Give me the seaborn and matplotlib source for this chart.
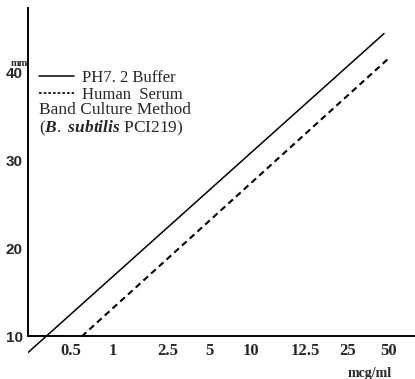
import numpy as np
import pandas as pd
import seaborn as sns
import matplotlib
matplotlib.use("Agg")
import matplotlib.pyplot as plt
from matplotlib.ticker import FixedLocator, NullLocator, FixedFormatter

# ---- data ----
buffer_conc = [0.245, 92.0]
buffer_zone = [8.16, 44.4]
serum_conc = [0.60, 98.0]
serum_zone = [10.0, 41.5]
series_names = ["PH7. 2 Buffer", "Human  Serum"]
x_tick_pos = [0.5, 1, 2.5, 5, 10, 25, 50, 100]
x_tick_labels = ["0.5", "1", "2.5", "5", "10", "12.5", "25", "50"]
y_ticks = [10, 20, 30, 40]
y_tick_labels = ["10", "20", "30", "40"]

df = pd.DataFrame({
    "conc": buffer_conc + serum_conc,
    "zone": buffer_zone + serum_zone,
    "series": [series_names[0]] * len(buffer_conc) + [series_names[1]] * len(serum_conc),
})

sns.set_style("white")
plt.rcParams["font.family"] = ["Liberation Serif", "DejaVu Serif"]
plt.rcParams["mathtext.fontset"] = "custom"
plt.rcParams["mathtext.rm"] = "Liberation Serif"
plt.rcParams["mathtext.it"] = "Liberation Serif:italic:bold"

fig = plt.figure(figsize=(4.15, 3.79), dpi=100)
ax = fig.add_axes([0.0682, 0.0501, 0.9318, 0.9288])

sns.lineplot(data=df, x="conc", y="zone", hue="series", style="series",
             palette={series_names[0]: "black", series_names[1]: "black"},
             dashes={series_names[0]: "", series_names[1]: (3, 2)},
             ax=ax, legend=False, sort=False)
ax.lines[0].set_linewidth(1.1)
ax.lines[1].set_linewidth(1.5)

ax.set_xscale("log")
ax.set_xlim(0.247, 154)
ax.set_ylim(7.33, 47.3)

ax.spines["top"].set_visible(False)
ax.spines["right"].set_visible(False)
ax.spines["bottom"].set_position(("data", 10))
ax.spines["left"].set_bounds(10, 47.3)
for s in ("bottom", "left"):
    ax.spines[s].set_linewidth(1.4)
    ax.spines[s].set_color("black")

ax.xaxis.set_major_locator(FixedLocator(x_tick_pos))
ax.xaxis.set_major_formatter(FixedFormatter(x_tick_labels))
ax.xaxis.set_minor_locator(NullLocator())
ax.set_yticks(y_ticks)
ax.set_yticklabels(y_tick_labels)
ax.tick_params(axis="x", length=0, pad=5, labelsize=12)
ax.tick_params(axis="y", direction="out", length=2, width=1, pad=2, labelsize=11)
for lab in ax.get_xticklabels():
    lab.set_fontweight("bold")
    lab.set_family(["Liberation Serif"])
for lab in ax.get_yticklabels():
    lab.set_fontweight("bold")
    lab.set_family(["Liberation Sans"])
ax.set_xlabel("")
ax.set_ylabel("")
ax.grid(False)

leg = ax.legend(handles=ax.lines[:2], labels=series_names, loc="upper left",
                bbox_to_anchor=(39 / 415, 1 - 70 / 379), bbox_transform=fig.transFigure,
                frameon=False, fontsize=12, handlelength=2.1, handletextpad=0.45,
                labelspacing=0.05, borderpad=0, borderaxespad=0)
leg.get_lines()[1].set_dashes((1.6, 1.2))
leg.get_lines()[1].set_linewidth(1.2)

fig.text(39 / 415, 1 - 110 / 379, "Band Culture Method", fontsize=12.5,
         ha="left", va="center")
fig.text(39 / 415, 1 - 128 / 379, r"($\it{B.\ subtilis}$ PCI219)", fontsize=12.5,
         ha="left", va="center")
fig.text(19 / 415, 1 - 63 / 379, "mm", fontsize=7.5, ha="center", va="center",
         fontweight="bold")
fig.text(370 / 415, 1 - 373 / 379, "mcg/ml", fontsize=10, ha="center", va="center",
         fontweight="bold")

fig.savefig("out.png", dpi=100)
